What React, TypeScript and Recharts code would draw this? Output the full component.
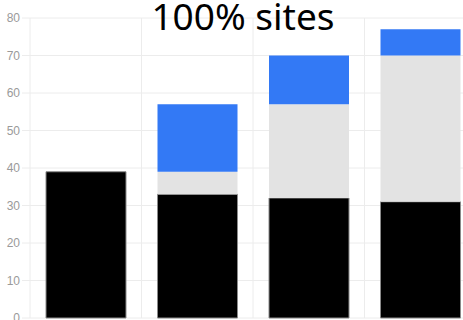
import React from 'react';
import { BarChart, Bar, XAxis, YAxis, CartesianGrid } from 'recharts';

const categories = ['A', 'B', 'C', 'D'];
const baseValues = [39, 33, 32, 31];
const greyValues = [0, 6, 25, 39];
const blueValues = [0, 18, 13, 7];
const yTicks = [0, 10, 20, 30, 40, 50, 60, 70, 80];

const data = categories.map((name, i) => ({
  name,
  base: baseValues[i],
  grey: greyValues[i],
  blue: blueValues[i],
}));

export default function App() {
  return (
    <div style={{ position: 'absolute', left: 0, top: 0, width: 463, height: 320, overflow: 'hidden', background: '#fff' }}>
      <BarChart
        width={480}
        height={340}
        data={data}
        margin={{ top: 18, right: 4, left: 0, bottom: 22 }}
        barSize={80}
      >
        {/* vertical lines sit on the band edges, not the band centres */}
        <CartesianGrid
          stroke='#ececec'
          verticalCoordinatesGenerator={({ offset }: any) =>
            categories.map((_, i) => offset.left + (i * offset.width) / categories.length)
          }
        />
        <XAxis dataKey='name' hide />
        <YAxis
          width={30}
          domain={[0, 80]}
          ticks={yTicks}
          interval={0}
          axisLine={false}
          tickSize={8}
          tickMargin={2}
          tickLine={{ stroke: '#ececec' }}
          tick={{ fill: '#9a9a9a', fontSize: 12, fontFamily: 'Liberation Sans, Arial, sans-serif' }}
        />
        <Bar dataKey='base' stackId='s' fill='#000000' stroke='#8a8a8a' strokeWidth={1} isAnimationActive={false} />
        <Bar dataKey='grey' stackId='s' fill='#e3e3e3' isAnimationActive={false} />
        <Bar dataKey='blue' stackId='s' fill='#3379f5' isAnimationActive={false} />
      </BarChart>
      <div
        style={{
          position: 'absolute',
          left: 0,
          width: 486,
          top: -3,
          lineHeight: '37px',
          textAlign: 'center',
          fontFamily: '"Noto Sans", sans-serif',
          fontSize: 37,
          fontWeight: 400,
          color: '#000',
          whiteSpace: 'nowrap',
        }}
      >
        100% sites
      </div>
    </div>
  );
}
